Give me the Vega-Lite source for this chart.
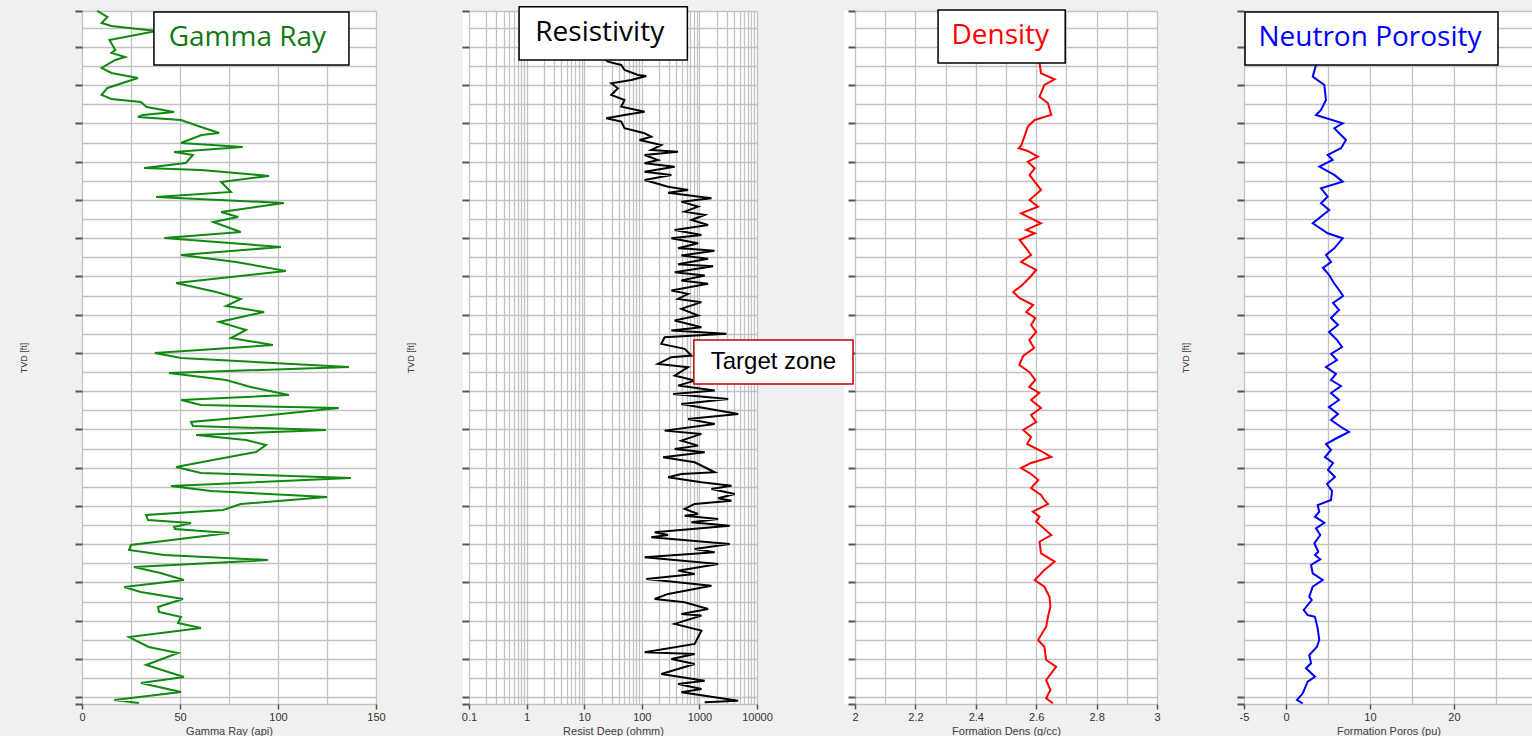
{
 "$schema": "https://vega.github.io/schema/vega-lite/v6.json",
 "background": "#f0f0f0",
 "padding": {"left": 19, "top": 6, "right": 0, "bottom": 0},
 "bounds": "flush",
 "spacing": 87,
 "datasets": {
  "gamma": [
   {"depth":8000.59,"gr":7.7},{"depth":8002.15,"gr":13},{"depth":8003.72,"gr":10},{"depth":8004.51,"gr":15},{"depth":8005.82,"gr":38},{"depth":8008.17,"gr":14},{"depth":8010.78,"gr":17},{"depth":8011.57,"gr":15},{"depth":8012.62,"gr":22},{"depth":8013.40,"gr":17},{"depth":8015.49,"gr":10},{"depth":8016.80,"gr":15},{"depth":8018.11,"gr":28.5},{"depth":8020.72,"gr":13},{"depth":8022.55,"gr":10},{"depth":8023.60,"gr":15},{"depth":8024.38,"gr":30},{"depth":8025.69,"gr":33},{"depth":8027.00,"gr":47},{"depth":8027.78,"gr":31},{"depth":8028.31,"gr":28.5},{"depth":8029.09,"gr":50.5},{"depth":8030.92,"gr":60.7},{"depth":8032.49,"gr":70},{"depth":8033.01,"gr":61},{"depth":8035.10,"gr":50.5},{"depth":8036.15,"gr":82},{"depth":8037.46,"gr":47},{"depth":8038.24,"gr":56.6},{"depth":8040.33,"gr":53},{"depth":8041.64,"gr":31.6},{"depth":8042.16,"gr":60.7},{"depth":8043.73,"gr":95.4},{"depth":8045.30,"gr":71},{"depth":8047.92,"gr":76},{"depth":8049.23,"gr":37.8},{"depth":8050.79,"gr":103},{"depth":8053.15,"gr":71},{"depth":8054.46,"gr":79.6},{"depth":8055.76,"gr":67},{"depth":8058.38,"gr":81},{"depth":8059.95,"gr":42},{"depth":8062.30,"gr":101.5},{"depth":8064.39,"gr":50.5},{"depth":8066.22,"gr":78.6},{"depth":8068.58,"gr":104},{"depth":8071.71,"gr":48},{"depth":8074.07,"gr":68.4},{"depth":8075.90,"gr":81},{"depth":8077.73,"gr":73.5},{"depth":8079.30,"gr":92.9},{"depth":8081.91,"gr":70},{"depth":8084.00,"gr":83.7},{"depth":8086.10,"gr":76},{"depth":8087.93,"gr":97.4},{"depth":8090.02,"gr":37.2},{"depth":8091.33,"gr":50.5},{"depth":8093.68,"gr":136.2},{"depth":8095.25,"gr":44.4},{"depth":8097.08,"gr":73.5},{"depth":8098.91,"gr":86},{"depth":8101.00,"gr":105.6},{"depth":8102.31,"gr":50.5},{"depth":8103.62,"gr":60.7},{"depth":8104.40,"gr":131},{"depth":8106.23,"gr":96.4},{"depth":8108.06,"gr":55.6},{"depth":8109.11,"gr":56.6},{"depth":8110.15,"gr":124.5},{"depth":8111.46,"gr":58.2},{"depth":8112.77,"gr":83.7},{"depth":8114.08,"gr":93.9},{"depth":8115.91,"gr":88.8},{"depth":8118.00,"gr":66.8},{"depth":8119.83,"gr":48},{"depth":8121.40,"gr":60.7},{"depth":8122.71,"gr":137.2},{"depth":8124.80,"gr":45.4},{"depth":8126.11,"gr":65.8},{"depth":8127.68,"gr":125},{"depth":8129.51,"gr":81},{"depth":8131.07,"gr":72},{"depth":8132.38,"gr":32.7},{"depth":8133.69,"gr":33.7},{"depth":8134.47,"gr":55.6},{"depth":8135.52,"gr":47},{"depth":8136.04,"gr":47.4},{"depth":8137.09,"gr":75},{"depth":8140.23,"gr":25},{"depth":8141.53,"gr":24},{"depth":8142.84,"gr":42},{"depth":8144.15,"gr":95},{"depth":8145.98,"gr":26.5},{"depth":8147.55,"gr":40},{"depth":8149.38,"gr":52},{"depth":8151.21,"gr":21.5},{"depth":8152.52,"gr":30},{"depth":8154.35,"gr":51.5},{"depth":8156.44,"gr":38.8},{"depth":8157.75,"gr":39.3},{"depth":8159.06,"gr":50.5},{"depth":8160.62,"gr":49},{"depth":8161.93,"gr":60.7},{"depth":8164.29,"gr":24},{"depth":8166.90,"gr":34},{"depth":8168.47,"gr":49},{"depth":8171.61,"gr":32.7},{"depth":8174.75,"gr":52},{"depth":8176.31,"gr":30},{"depth":8178.67,"gr":50.5},{"depth":8180.76,"gr":16.5},{"depth":8181.54,"gr":29}
  ],
  "resist": [
   {"depth":8013.14,"res":22.5},{"depth":8013.84,"res":25.8},{"depth":8014.71,"res":44.0},{"depth":8016.01,"res":50.2},{"depth":8017.32,"res":85.9},{"depth":8017.58,"res":119.7},{"depth":8018.63,"res":65.7},{"depth":8019.49,"res":29.5},{"depth":8020.80,"res":38.5},{"depth":8022.55,"res":29.5},{"depth":8023.86,"res":50.2},{"depth":8025.61,"res":44.0},{"depth":8026.92,"res":111.9},{"depth":8027.78,"res":50.2},{"depth":8028.65,"res":24.1},{"depth":8029.53,"res":44.0},{"depth":8031.26,"res":50.2},{"depth":8032.57,"res":111.9},{"depth":8033.46,"res":146},{"depth":8034.32,"res":91.6},{"depth":8035.63,"res":218},{"depth":8036.93,"res":146},{"depth":8037.38,"res":426},{"depth":8038.24,"res":111.9},{"depth":8039.55,"res":191},{"depth":8040.41,"res":111.9},{"depth":8041.30,"res":372},{"depth":8042.61,"res":111.9},{"depth":8043.47,"res":326},{"depth":8044.78,"res":111.9},{"depth":8046.53,"res":286},{"depth":8047.39,"res":636},{"depth":8048.10,"res":286},{"depth":8049.56,"res":1618},{"depth":8050.45,"res":486},{"depth":8051.76,"res":949},{"depth":8053.07,"res":555},{"depth":8053.93,"res":1236},{"depth":8055.24,"res":726},{"depth":8056.55,"res":1416},{"depth":8057.85,"res":372},{"depth":8059.16,"res":1084},{"depth":8060.03,"res":326},{"depth":8061.33,"res":949},{"depth":8062.64,"res":426},{"depth":8062.77,"res":636},{"depth":8063.30,"res":1824},{"depth":8064.53,"res":486},{"depth":8065.40,"res":1416},{"depth":8066.84,"res":426},{"depth":8067.37,"res":1730},{"depth":8068.89,"res":372},{"depth":8069.77,"res":1236},{"depth":8071.08,"res":486},{"depth":8071.94,"res":1416},{"depth":8073.70,"res":326},{"depth":8074.56,"res":636},{"depth":8075.87,"res":426},{"depth":8076.73,"res":1084},{"depth":8078.49,"res":486},{"depth":8080.24,"res":949},{"depth":8081.55,"res":372},{"depth":8083.27,"res":1084},{"depth":8084.16,"res":326},{"depth":8085.02,"res":2951},{"depth":8085.89,"res":249},{"depth":8087.64,"res":218},{"depth":8088.95,"res":555},{"depth":8090.70,"res":726},{"depth":8091.12,"res":326},{"depth":8092.87,"res":191},{"depth":8093.73,"res":636},{"depth":8095.93,"res":372},{"depth":8097.24,"res":828},{"depth":8098.55,"res":426},{"depth":8099.85,"res":1845},{"depth":8100.72,"res":349},{"depth":8102.03,"res":3155},{"depth":8103.33,"res":486},{"depth":8105.95,"res":4710},{"depth":8107.26,"res":636},{"depth":8108.56,"res":1845},{"depth":8110.32,"res":249},{"depth":8111.18,"res":1084},{"depth":8112.93,"res":486},{"depth":8114.24,"res":949},{"depth":8115.11,"res":372},{"depth":8115.97,"res":1236},{"depth":8117.28,"res":234},{"depth":8118.59,"res":828},{"depth":8119.90,"res":1236},{"depth":8121.20,"res":1845},{"depth":8121.65,"res":486},{"depth":8122.51,"res":286},{"depth":8123.82,"res":1084},{"depth":8124.71,"res":3604},{"depth":8125.57,"res":1618},{"depth":8126.88,"res":4111},{"depth":8128.00,"res":2114},{"depth":8128.63,"res":3604},{"depth":8129.50,"res":828},{"depth":8130.80,"res":555},{"depth":8132.11,"res":949},{"depth":8132.56,"res":555},{"depth":8133.42,"res":2114},{"depth":8134.28,"res":726},{"depth":8135.17,"res":3365},{"depth":8136.90,"res":167},{"depth":8137.60,"res":286},{"depth":8138.20,"res":146},{"depth":8139.95,"res":3365},{"depth":8141.26,"res":828},{"depth":8142.12,"res":1845},{"depth":8143.43,"res":112},{"depth":8145.18,"res":2114},{"depth":8146.93,"res":426},{"depth":8147.80,"res":828},{"depth":8149.10,"res":120},{"depth":8150.86,"res":1618},{"depth":8153.02,"res":286},{"depth":8154.33,"res":167},{"depth":8155.19,"res":555},{"depth":8156.94,"res":1416},{"depth":8158.25,"res":486},{"depth":8158.69,"res":1084},{"depth":8160.86,"res":372},{"depth":8162.62,"res":1084},{"depth":8166.10,"res":828},{"depth":8168.27,"res":112},{"depth":8168.71,"res":828},{"depth":8170.02,"res":326},{"depth":8171.33,"res":828},{"depth":8173.94,"res":218},{"depth":8175.70,"res":1236},{"depth":8176.56,"res":426},{"depth":8177.87,"res":1084},{"depth":8178.73,"res":486},{"depth":8180.93,"res":4710},{"depth":8181.35,"res":1236}
  ],
  "dens": [
   {"depth":8014.2,"rhob":2.611},{"depth":8016.88,"rhob":2.616},{"depth":8018.45,"rhob":2.661},{"depth":8019.94,"rhob":2.627},{"depth":8023.00,"rhob":2.611},{"depth":8024.72,"rhob":2.639},{"depth":8027.78,"rhob":2.650},{"depth":8029.09,"rhob":2.595},{"depth":8030.84,"rhob":2.572},{"depth":8033.46,"rhob":2.561},{"depth":8035.8,"rhob":2.55},{"depth":8036.5,"rhob":2.542},{"depth":8037.2,"rhob":2.572},{"depth":8038.69,"rhob":2.606},{"depth":8039.99,"rhob":2.572},{"depth":8041.72,"rhob":2.595},{"depth":8043.47,"rhob":2.578},{"depth":8047.39,"rhob":2.616},{"depth":8050.01,"rhob":2.578},{"depth":8051.76,"rhob":2.606},{"depth":8053.49,"rhob":2.550},{"depth":8056.10,"rhob":2.616},{"depth":8057.85,"rhob":2.567},{"depth":8058.72,"rhob":2.595},{"depth":8060.47,"rhob":2.545},{"depth":8062.64,"rhob":2.567},{"depth":8064.39,"rhob":2.583},{"depth":8066.22,"rhob":2.550},{"depth":8068.31,"rhob":2.600},{"depth":8070.41,"rhob":2.577},{"depth":8072.50,"rhob":2.550},{"depth":8074.07,"rhob":2.524},{"depth":8075.64,"rhob":2.544},{"depth":8077.47,"rhob":2.590},{"depth":8079.30,"rhob":2.567},{"depth":8080.87,"rhob":2.597},{"depth":8082.70,"rhob":2.583},{"depth":8084.53,"rhob":2.600},{"depth":8086.62,"rhob":2.577},{"depth":8088.71,"rhob":2.593},{"depth":8090.80,"rhob":2.557},{"depth":8093.16,"rhob":2.544},{"depth":8094.99,"rhob":2.577},{"depth":8097.08,"rhob":2.597},{"depth":8098.91,"rhob":2.577},{"depth":8100.48,"rhob":2.610},{"depth":8102.31,"rhob":2.583},{"depth":8104.40,"rhob":2.616},{"depth":8106.23,"rhob":2.583},{"depth":8108.06,"rhob":2.600},{"depth":8110.15,"rhob":2.557},{"depth":8111.99,"rhob":2.583},{"depth":8113.82,"rhob":2.570},{"depth":8115.65,"rhob":2.616},{"depth":8117.22,"rhob":2.650},{"depth":8118.78,"rhob":2.583},{"depth":8120.09,"rhob":2.550},{"depth":8121.66,"rhob":2.583},{"depth":8123.23,"rhob":2.607},{"depth":8125.32,"rhob":2.583},{"depth":8127.15,"rhob":2.616},{"depth":8128.46,"rhob":2.627},{"depth":8129.51,"rhob":2.639},{"depth":8131.52,"rhob":2.589},{"depth":8132.83,"rhob":2.611},{"depth":8134.13,"rhob":2.600},{"depth":8137.61,"rhob":2.650},{"depth":8139.36,"rhob":2.611},{"depth":8142.40,"rhob":2.616},{"depth":8144.59,"rhob":2.661},{"depth":8146.76,"rhob":2.627},{"depth":8149.38,"rhob":2.595},{"depth":8151.13,"rhob":2.627},{"depth":8153.75,"rhob":2.644},{"depth":8156.36,"rhob":2.647},{"depth":8158.98,"rhob":2.639},{"depth":8161.59,"rhob":2.633},{"depth":8165.07,"rhob":2.606},{"depth":8166.82,"rhob":2.627},{"depth":8170.30,"rhob":2.633},{"depth":8172.05,"rhob":2.666},{"depth":8175.53,"rhob":2.633},{"depth":8178.14,"rhob":2.647},{"depth":8180.31,"rhob":2.633},{"depth":8181.62,"rhob":2.655}
  ],
  "nphi": [
   {"depth":8014.71,"nphi":3.57},{"depth":8017.77,"nphi":3.18},{"depth":8019.94,"nphi":4.56},{"depth":8023.86,"nphi":4.76},{"depth":8026.47,"nphi":4.17},{"depth":8027.78,"nphi":3.57},{"depth":8029.95,"nphi":6.75},{"depth":8031.26,"nphi":5.75},{"depth":8034.32,"nphi":7.14},{"depth":8036.49,"nphi":6.55},{"depth":8038.24,"nphi":4.96},{"depth":8039.55,"nphi":5.56},{"depth":8041.30,"nphi":3.96},{"depth":8043.47,"nphi":5.75},{"depth":8045.22,"nphi":6.75},{"depth":8046.95,"nphi":4.17},{"depth":8049.15,"nphi":4.96},{"depth":8050.87,"nphi":4.17},{"depth":8052.62,"nphi":5.15},{"depth":8056.10,"nphi":3.18},{"depth":8058.72,"nphi":4.96},{"depth":8060.03,"nphi":6.75},{"depth":8062.64,"nphi":5.75},{"depth":8064.39,"nphi":4.76},{"depth":8066.22,"nphi":5.36},{"depth":8067.79,"nphi":4.40},{"depth":8069.62,"nphi":5.12},{"depth":8071.71,"nphi":5.71},{"depth":8073.54,"nphi":6.31},{"depth":8075.11,"nphi":6.79},{"depth":8076.94,"nphi":5.60},{"depth":8078.77,"nphi":6.31},{"depth":8080.87,"nphi":5.36},{"depth":8082.70,"nphi":6.19},{"depth":8084.53,"nphi":5.12},{"depth":8086.62,"nphi":6.07},{"depth":8088.45,"nphi":6.67},{"depth":8090.28,"nphi":5.36},{"depth":8091.85,"nphi":6.07},{"depth":8093.68,"nphi":4.76},{"depth":8095.51,"nphi":5.95},{"depth":8097.08,"nphi":5.36},{"depth":8098.65,"nphi":6.55},{"depth":8100.48,"nphi":5.36},{"depth":8102.31,"nphi":6.31},{"depth":8104.14,"nphi":5.12},{"depth":8105.97,"nphi":6.19},{"depth":8107.54,"nphi":5.36},{"depth":8109.37,"nphi":6.55},{"depth":8110.68,"nphi":7.50},{"depth":8112.25,"nphi":6.07},{"depth":8113.82,"nphi":4.76},{"depth":8115.38,"nphi":5.36},{"depth":8117.22,"nphi":4.64},{"depth":8118.78,"nphi":5.60},{"depth":8120.61,"nphi":5.00},{"depth":8122.45,"nphi":5.83},{"depth":8124.28,"nphi":4.88},{"depth":8126.11,"nphi":5.48},{"depth":8128.46,"nphi":5.36},{"depth":8129.77,"nphi":3.77},{"depth":8131.52,"nphi":3.96},{"depth":8132.83,"nphi":3.45},{"depth":8134.40,"nphi":4.56},{"depth":8135.86,"nphi":3.57},{"depth":8137.61,"nphi":4.08},{"depth":8139.78,"nphi":3.37},{"depth":8141.98,"nphi":3.85},{"depth":8142.84,"nphi":3.45},{"depth":8143.97,"nphi":4.08},{"depth":8145.46,"nphi":2.98},{"depth":8147.63,"nphi":3.18},{"depth":8149.38,"nphi":4.37},{"depth":8151.13,"nphi":3.18},{"depth":8153.75,"nphi":2.77},{"depth":8154.61,"nphi":3.06},{"depth":8157.22,"nphi":2.11},{"depth":8158.53,"nphi":2.58},{"depth":8158.98,"nphi":3.45},{"depth":8162.01,"nphi":3.77},{"depth":8165.07,"nphi":3.96},{"depth":8166.82,"nphi":3.69},{"depth":8168.99,"nphi":2.77},{"depth":8171.16,"nphi":2.98},{"depth":8172.47,"nphi":2.38},{"depth":8174.67,"nphi":3.45},{"depth":8175.97,"nphi":2.58},{"depth":8179.01,"nphi":1.99},{"depth":8180.76,"nphi":1.31},{"depth":8181.62,"nphi":1.99}
  ]
 },
 "hconcat": [
  {
   "width": 294, "height": 693,
   "resolve": {"axis": {"x": "independent", "y": "independent"}},
   "layer": [
    {
     "data": {"name": "gamma"},
     "mark": {"type": "line", "color": "#118811", "strokeWidth": 2},
     "encoding": {
      "x": {"field": "gr", "type": "quantitative", "scale": {"domain": [0, 150], "nice": false, "zero": false},
            "axis": {"title": "Gamma Ray (api)", "values": [0,25,50,75,100,125,150], "labelExpr": "datum.value % 50 === 0 ? datum.label : ''", "tickOpacity": {"condition": {"test": "datum.value % 50 === 0", "value": 1}, "value": 0}}},
      "y": {"field": "depth", "type": "quantitative", "scale": {"domain": [8000.6, 8181.8], "reverse": true, "nice": false, "zero": false},
            "axis": {"title": "TVD [ft]", "values": [8000.6,8005,8010,8015,8020,8025,8030,8035,8040,8045,8050,8055,8060,8065,8070,8075,8080,8085,8090,8095,8100,8105,8110,8115,8120,8125,8130,8135,8140,8145,8150,8155,8160,8165,8170,8175,8180,8181.8], "tickOpacity": {"condition": {"test": "datum.value % 10 === 0 || datum.value < 8001 || datum.value > 8181", "value": 1}, "value": 0}}},
      "order": {"field": "depth", "type": "quantitative"}
     }
    },
    {
     "data": {"values": [{}]},
     "mark": {"type": "rect", "fill": "white", "stroke": "black", "strokeWidth": 1.5},
     "encoding": {
      "x": {"datum": 36.7, "type": "quantitative", "axis": null},
      "x2": {"datum": 136.2},
      "y": {"datum": 8000.85, "type": "quantitative", "axis": null},
      "y2": {"datum": 8014.7}
     }
    },
    {
     "data": {"values": [{}]},
     "mark": {"type": "text", "text": "Gamma Ray", "font": "Open Sans", "fontSize": 28, "color": "#0f7b0f", "align": "center", "baseline": "middle"},
     "encoding": {
      "x": {"datum": 84.4, "type": "quantitative", "axis": null},
      "y": {"datum": 8007.7, "type": "quantitative", "axis": null}
     }
    }
   ]
  },
  {
   "width": 294, "height": 693,
   "resolve": {"axis": {"x": "independent", "y": "independent"}},
   "layer": [
    {
     "data": {"name": "resist"},
     "mark": {"type": "line", "color": "#000000", "strokeWidth": 2},
     "encoding": {
      "x": {"field": "res", "type": "quantitative", "scale": {"type": "log", "domain": [0.1, 10000], "nice": false, "range": [6, 294]},
            "axis": {"title": "Resist Deep (ohmm)", "values": [0.1,0.2,0.3,0.4,0.5,0.6,0.7,0.8,0.9,1,2,3,4,5,6,7,8,9,10,20,30,40,50,60,70,80,90,100,200,300,400,500,600,700,800,900,1000,2000,3000,4000,5000,6000,7000,8000,9000,10000], "labelExpr": "indexof([0.1,1,10,100,1000,10000], datum.value) >= 0 ? datum.label : ''", "tickOpacity": {"condition": {"test": "indexof([0.1,1,10,100,1000,10000], datum.value) >= 0", "value": 1}, "value": 0}}},
      "y": {"field": "depth", "type": "quantitative", "scale": {"domain": [8000.6, 8181.8], "reverse": true, "nice": false, "zero": false},
            "axis": {"title": "TVD [ft]", "offset": -6, "values": [8000.6,8005,8010,8015,8020,8025,8030,8035,8040,8045,8050,8055,8060,8065,8070,8075,8080,8085,8090,8095,8100,8105,8110,8115,8120,8125,8130,8135,8140,8145,8150,8155,8160,8165,8170,8175,8180,8181.8], "tickOpacity": {"condition": {"test": "datum.value % 10 === 0 || datum.value < 8001 || datum.value > 8181", "value": 1}, "value": 0}}},
      "order": {"field": "depth", "type": "quantitative"}
     }
    },
    {
     "data": {"values": [{}]},
     "mark": {"type": "rect", "fill": "white", "stroke": "black", "strokeWidth": 1.5},
     "encoding": {
      "x": {"datum": 0.7408, "type": "quantitative", "axis": null},
      "x2": {"datum": 618},
      "y": {"datum": 7999.5, "type": "quantitative", "axis": null},
      "y2": {"datum": 8013.4}
     }
    },
    {
     "data": {"values": [{}]},
     "mark": {"type": "text", "text": "Resistivity", "font": "Open Sans", "fontSize": 28, "color": "#000000", "align": "center", "baseline": "middle"},
     "encoding": {
      "x": {"datum": 18.6, "type": "quantitative", "axis": null},
      "y": {"datum": 8006.47, "type": "quantitative", "axis": null}
     }
    }
   ]
  },
  {
   "width": 313, "height": 693,
   "resolve": {"axis": {"x": "independent", "y": "independent"}},
   "layer": [
    {
     "data": {"name": "dens"},
     "mark": {"type": "line", "color": "#ff0000", "strokeWidth": 2},
     "encoding": {
      "x": {"field": "rhob", "type": "quantitative", "scale": {"domain": [2, 3], "nice": false, "zero": false, "range": [11, 313]},
            "axis": {"title": "Formation Dens (g/cc)", "values": [2,2.1,2.2,2.3,2.4,2.5,2.6,2.7,2.8,2.9,3], "labelExpr": "indexof([2,2.2,2.4,2.6,2.8,3], datum.value) >= 0 ? datum.label : ''", "tickOpacity": {"condition": {"test": "indexof([2,2.2,2.4,2.6,2.8,3], datum.value) >= 0", "value": 1}, "value": 0}}},
      "y": {"field": "depth", "type": "quantitative", "scale": {"domain": [8000.6, 8181.8], "reverse": true, "nice": false, "zero": false},
            "axis": {"title": "TVD [ft]", "offset": -11, "values": [8000.6,8005,8010,8015,8020,8025,8030,8035,8040,8045,8050,8055,8060,8065,8070,8075,8080,8085,8090,8095,8100,8105,8110,8115,8120,8125,8130,8135,8140,8145,8150,8155,8160,8165,8170,8175,8180,8181.8], "tickOpacity": {"condition": {"test": "datum.value % 10 === 0 || datum.value < 8001 || datum.value > 8181", "value": 1}, "value": 0}}},
      "order": {"field": "depth", "type": "quantitative"}
     }
    },
    {
     "data": {"values": [{}]},
     "mark": {"type": "rect", "fill": "white", "stroke": "black", "strokeWidth": 1.5},
     "encoding": {
      "x": {"datum": 2.275, "type": "quantitative", "axis": null},
      "x2": {"datum": 2.696},
      "y": {"datum": 8000.32, "type": "quantitative", "axis": null},
      "y2": {"datum": 8014.18}
     }
    },
    {
     "data": {"values": [{}]},
     "mark": {"type": "text", "text": "Density", "font": "Open Sans", "fontSize": 28, "color": "#ff0000", "align": "center", "baseline": "middle"},
     "encoding": {
      "x": {"datum": 2.481, "type": "quantitative", "axis": null},
      "y": {"datum": 8007.25, "type": "quantitative", "axis": null}
     }
    },
    {
     "data": {"values": [{}]},
     "mark": {"type": "rect", "fill": "white", "stroke": "#c00000", "strokeWidth": 1.5},
     "encoding": {
      "x": {"datum": 1.4664, "type": "quantitative", "axis": null},
      "x2": {"datum": 1.9934},
      "y": {"datum": 8086.62, "type": "quantitative", "axis": null},
      "y2": {"datum": 8098.13}
     }
    },
    {
     "data": {"values": [{}]},
     "mark": {"type": "text", "text": "Target zone", "font": "Liberation Sans", "fontSize": 24, "color": "#000000", "align": "center", "baseline": "middle"},
     "encoding": {
      "x": {"datum": 1.7299, "type": "quantitative", "axis": null},
      "y": {"datum": 8092.37, "type": "quantitative", "axis": null}
     }
    }
   ]
  },
  {
   "width": 289, "height": 693,
   "resolve": {"axis": {"x": "independent", "y": "independent"}},
   "layer": [
    {
     "data": {"name": "nphi"},
     "mark": {"type": "line", "color": "#0000ff", "strokeWidth": 2},
     "encoding": {
      "x": {"field": "nphi", "type": "quantitative", "scale": {"domain": [-5, 29.405], "nice": false, "zero": false},
            "axis": {"title": "Formation Poros (pu)", "values": [-5,0,5,10,15,20,25], "labelExpr": "datum.value === -5 ? '-5' : (datum.value % 10 === 0 ? datum.label : '')", "tickOpacity": {"condition": {"test": "datum.value % 10 === 0 || datum.value === -5", "value": 1}, "value": 0}}},
      "y": {"field": "depth", "type": "quantitative", "scale": {"domain": [8000.6, 8181.8], "reverse": true, "nice": false, "zero": false},
            "axis": {"title": "TVD [ft]", "values": [8000.6,8005,8010,8015,8020,8025,8030,8035,8040,8045,8050,8055,8060,8065,8070,8075,8080,8085,8090,8095,8100,8105,8110,8115,8120,8125,8130,8135,8140,8145,8150,8155,8160,8165,8170,8175,8180,8181.8], "tickOpacity": {"condition": {"test": "datum.value % 10 === 0 || datum.value < 8001 || datum.value > 8181", "value": 1}, "value": 0}}},
      "order": {"field": "depth", "type": "quantitative"}
     }
    },
    {
     "data": {"values": [{}]},
     "mark": {"type": "rect", "fill": "white", "stroke": "black", "strokeWidth": 1.5},
     "encoding": {
      "x": {"datum": -4.88, "type": "quantitative", "axis": null},
      "x2": {"datum": 25.24},
      "y": {"datum": 8000.85, "type": "quantitative", "axis": null},
      "y2": {"datum": 8014.71}
     }
    },
    {
     "data": {"values": [{}]},
     "mark": {"type": "text", "text": "Neutron Porosity", "font": "Open Sans", "fontSize": 28, "color": "#0000ff", "align": "center", "baseline": "middle"},
     "encoding": {
      "x": {"datum": 10.0, "type": "quantitative", "axis": null},
      "y": {"datum": 8007.78, "type": "quantitative", "axis": null}
     }
    }
   ]
  }
 ],
 "config": {
  "view": {"stroke": null, "fill": "white"},
  "axis": {"labelFont": "Liberation Sans", "labelFontSize": 11, "labelColor": "#333333", "titleFont": "Liberation Sans", "titleFontSize": 11, "titleFontWeight": "normal", "titleColor": "#404040", "domain": false, "labelFlush": false, "labelOverlap": false, "labelBound": false, "grid": true, "gridColor": "#c2c2c2", "gridWidth": 1.3, "gridOpacity": 1, "tickColor": "#555555"},
  "axisX": {"tickSize": 5, "tickWidth": 1.5, "labelPadding": 2, "titlePadding": 3, "format": ".6~g"},
  "axisY": {"labels": false, "tickSize": 7, "tickWidth": 2, "titleFontSize": 9, "titlePadding": 46}
 }
}
